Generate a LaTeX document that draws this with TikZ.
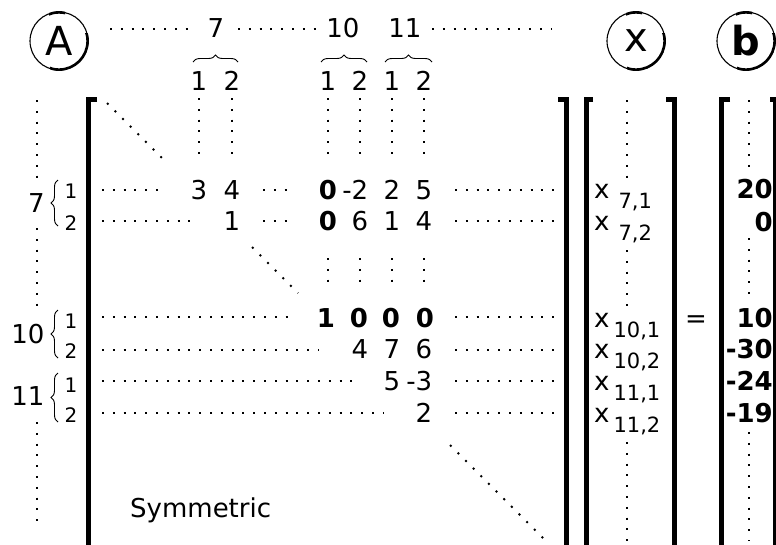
\documentclass[tikz,border=0pt]{standalone}
\usepackage{fontspec}
\setmainfont{DejaVu Sans}
\usetikzlibrary{decorations.pathreplacing}

\begin{document}
\begin{tikzpicture}[x=1pt,y=-1pt,
  dots/.style={line width=2pt,dash pattern=on 2pt off 8.8pt},
  num/.style={font=\fontsize{26}{26}\selectfont,inner sep=0pt,anchor=base},
  bnum/.style={font=\fontsize{26}{26}\selectfont\bfseries,inner sep=0pt,anchor=base east},
  small/.style={font=\fontsize{20}{20}\selectfont,inner sep=0pt,anchor=base},
  xent/.style={font=\fontsize{26}{26}\selectfont,inner sep=0pt,anchor=base west},
  bracket/.style={line width=5pt,miter limit=10},
  brc/.style={decorate,decoration={brace,amplitude=7pt},line width=0.9pt},
  circ/.style={draw,circle,minimum size=58pt,inner sep=0pt,line width=1.1pt,
    font=\fontsize{40}{40}\selectfont},
  shade/.style={line width=2.6pt}]

\fill[white] (0,0) rectangle (776,544);
\useasboundingbox (0,0) rectangle (776,544);

% labelled circles above the three factors
\node[circ] (cA) at (59,41) {A};
\node[circ] (cX) at (636,41) {x};
\node[circ] (cB) at (746,41) {\bfseries b};
\foreach \c in {cA,cX,cB}{
  \begin{scope}
    \clip ([xshift=-9pt,yshift=8pt]\c.center) rectangle ([xshift=40pt,yshift=-40pt]\c.center);
    \draw[shade] (\c.center) circle[radius=28.6];
  \end{scope}
  \begin{scope}
    \clip ([xshift=-10pt,yshift=40pt]\c.center) rectangle ([xshift=6pt,yshift=22pt]\c.center);
    \draw[shade] (\c.center) circle[radius=28.6];
  \end{scope}
}

% node numbers along the top
\node[num] (h7) at (216,37) {7};
\node[num] (h10) at (343,37) {10};
\node[num] (h11) at (405,37) {11};
\draw[dots] (110,29) -- (190,29);
\draw[dots] (238,29) -- (318,29);
\draw[dots] (432,29) -- (552,29);

\draw[brc] (193,62) -- (238,62);
\draw[brc] (321,62) -- (367,62);
\draw[brc] (385,62) -- (432,62);

% degree-of-freedom column labels
\node[num] (c71) at (199,90) {1};
\node[num] (c72) at (232,90) {2};
\node[num] (c101) at (328,90) {1};
\node[num] (c102) at (360,90) {2};
\node[num] (c111) at (392,90) {1};
\node[num] (c112) at (424,90) {2};
\foreach \x in {199,232,328,360,392,424}
  \draw[dots] (\x,98) -- (\x,155);
\foreach \x in {328,360,392,424}
  \draw[dots] (\x,258) -- (\x,283);

% matrix brackets
\draw[bracket] (97,99.5) -- (88.5,99.5) -- (88.5,560);
\draw[bracket] (558,99.5) -- (566,99.5) -- (566,560);
\draw[bracket] (593,99.5) -- (586,99.5) -- (586,560);
\draw[bracket] (666,99.5) -- (674,99.5) -- (674,560);
\draw[bracket] (730,99.5) -- (721.5,99.5) -- (721.5,560);
\draw[bracket] (770,99.5) -- (775,99.5) -- (775,560);

% row labels
\node[num] (r7) at (36.5,212) {7};
\node[num] (r10) at (28,343) {10};
\node[num] (r11) at (28,405) {11};
\draw[brc] (58,226) -- (58,180);
\draw[brc] (58,358) -- (58,310);
\draw[brc] (58,422) -- (58,373);
\node[small] (r71) at (71,198) {1};
\node[small] (r72) at (71,230) {2};
\node[small] (r101) at (71,328) {1};
\node[small] (r102) at (71,358) {2};
\node[small] (r111) at (71,392) {1};
\node[small] (r112) at (71,422) {2};
\draw[dots] (37,100) -- (37,179);
\draw[dots] (37,228) -- (37,307);
\draw[dots] (37,422) -- (37,521);

% diagonal of the matrix
\draw[dots] (107,103) -- (164,160);
\draw[dots] (252,247) -- (298,293);
\draw[dots] (450,445) -- (549,544);

% row 7.1
\draw[dots] (102,190) -- (158,190);
\draw[dots] (263,190) -- (289,190);
\draw[dots] (455,190) -- (555,190);
\node[num] (a1) at (199,199) {3};
\node[num] (a2) at (232,199) {4};
\node[num] (a3) at (328,199) {\bfseries 0};
\node[num] (a4) at (360,199) {\llap{-}2};
\node[num] (a5) at (392,199) {2};
\node[num] (a6) at (424,199) {5};
% row 7.2
\draw[dots] (102,221) -- (191,221);
\draw[dots] (263,221) -- (289,221);
\draw[dots] (455,221) -- (555,221);
\node[num] (b2) at (232,230) {1};
\node[num] (b3) at (328,230) {\bfseries 0};
\node[num] (b4) at (360,230) {6};
\node[num] (b5) at (392,230) {1};
\node[num] (b6) at (424,230) {4};
% row 10.1
\draw[dots] (102,317) -- (289,317);
\draw[dots] (455,317) -- (555,317);
\node[num] (c3) at (326,327) {\bfseries 1};
\node[num] (c4) at (359,327) {\bfseries 0};
\node[num] (c5) at (391,327) {\bfseries 0};
\node[num] (c6) at (425,327) {\bfseries 0};
% row 10.2
\draw[dots] (102,350) -- (319,350);
\draw[dots] (455,350) -- (555,350);
\node[num] (d4) at (360,358) {4};
\node[num] (d5) at (392,358) {7};
\node[num] (d6) at (424,358) {6};
% row 11.1
\draw[dots] (102,381) -- (352,381);
\draw[dots] (455,381) -- (555,381);
\node[num] (e5) at (392,390) {5};
\node[num] (e6) at (424,390) {\llap{-}3};
% row 11.2
\draw[dots] (102,413) -- (384,413);
\draw[dots] (455,413) -- (555,413);
\node[num] (f6) at (424,422) {2};

\node[num,anchor=base west] (sym) at (130,517) {Symmetric};

% unknowns
\newcommand\subsc[1]{\raisebox{-10pt}{\fontsize{21}{21}\selectfont #1}}
\node[xent] (x71) at (594,198) {x\hspace{9pt}\subsc{7,1}};
\node[xent] (x72) at (594,230) {x\hspace{9pt}\subsc{7,2}};
\node[xent] (x101) at (594,327) {x\hspace{4pt}\subsc{10,1}};
\node[xent] (x102) at (594,358) {x\hspace{4pt}\subsc{10,2}};
\node[xent] (x111) at (594,390) {x\hspace{4pt}\subsc{11,1}};
\node[xent] (x112) at (594,422) {x\hspace{4pt}\subsc{11,2}};
\draw[dots] (627,100) -- (627,179);
\draw[dots] (627,250) -- (627,307);
\draw[dots] (627,442) -- (627,542);

\node[num] (eq) at (696,327) {=};

% right-hand side
\node[bnum] (v1) at (773,198) {20};
\node[bnum] (v2) at (773,231) {0};
\node[bnum] (v3) at (773,327) {10};
\node[bnum] (v4) at (773,358) {-30};
\node[bnum] (v5) at (773,390) {-24};
\node[bnum] (v6) at (773,422) {-19};
\draw[dots] (749,100) -- (749,167);
\draw[dots] (749,238) -- (749,295);
\draw[dots] (749,432) -- (749,541);
\end{tikzpicture}
\end{document}
